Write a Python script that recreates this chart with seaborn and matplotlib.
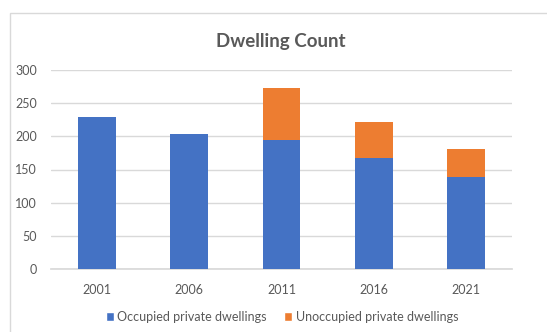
import matplotlib
matplotlib.use("Agg")
import matplotlib.pyplot as plt
import seaborn as sns
import pandas as pd
from matplotlib.patches import Patch, Rectangle

years = ["2001", "2006", "2011", "2016", "2021"]
occupied = [229, 204, 194, 167, 139]
unoccupied = [0, 0, 79, 54, 42]
series_names = ["Occupied private dwellings", "Unoccupied private dwellings"]
yticks = [0, 50, 100, 150, 200, 250, 300]

BLUE = "#4472C4"
ORANGE = "#ED7D31"
TEXT = "#595959"
GRID = "#D9D9D9"

sns.set_theme(style="white")
plt.rcParams["font.family"] = ["Lato", "DejaVu Sans"]

df = pd.DataFrame({
    "year": years,
    "occupied": occupied,
    "total": [o + u for o, u in zip(occupied, unoccupied)],
})

fig = plt.figure(figsize=(5.47, 3.32), dpi=100)
ax = fig.add_axes([51 / 547, 1 - 269 / 332, (512 - 51) / 547, (269 - 70) / 332])

sns.barplot(data=df, x="year", y="total", color=ORANGE, width=0.41,
            saturation=1, ax=ax, edgecolor="none", zorder=3)
sns.barplot(data=df, x="year", y="occupied", color=BLUE, width=0.41,
            saturation=1, ax=ax, edgecolor="none", zorder=4)

ax.set_ylim(0, 300)
ax.set_yticks(yticks)
ax.set_yticklabels([str(t) for t in yticks])
ax.set_xlabel("")
ax.set_ylabel("")
ax.grid(axis="y", color=GRID, linewidth=1, zorder=0)
ax.set_axisbelow(True)
for s in ["top", "right", "left"]:
    ax.spines[s].set_visible(False)
ax.spines["bottom"].set_color(GRID)
ax.tick_params(axis="both", length=0, labelsize=9, labelcolor=TEXT)
ax.tick_params(axis="x", pad=11)
ax.tick_params(axis="y", pad=10)

fig.text(281 / 547, 1 - 41 / 332, "Dwelling Count", ha="center", va="center",
         fontsize=13.5, fontweight="bold", color=TEXT)

handles = [Patch(facecolor=BLUE, label=series_names[0]),
           Patch(facecolor=ORANGE, label=series_names[1])]
fig.legend(handles=handles, loc="center", bbox_to_anchor=(282 / 547, 1 - 317 / 332),
           ncol=2, frameon=False, fontsize=9, labelcolor=TEXT,
           handlelength=0.65, handleheight=0.65, handletextpad=0.25, columnspacing=1.4)

fig.patches.append(Rectangle((10 / 547, -0.1), 1.2, 1 - 13 / 332 + 0.1,
                             transform=fig.transFigure, fill=False,
                             edgecolor=GRID, linewidth=1))

fig.savefig("out.png", dpi=100)
